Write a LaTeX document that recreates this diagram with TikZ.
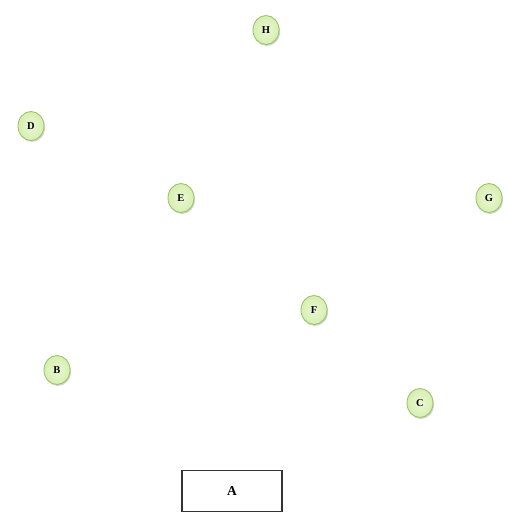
\documentclass[tikz,border=0pt]{standalone}
\usepackage{fontspec}
\setmainfont{Liberation Serif}
\usetikzlibrary{shadows,shapes.geometric}
\definecolor{nodefill}{HTML}{DDF3B8}
\definecolor{nodeedge}{HTML}{9CC46C}
\begin{document}
\begin{tikzpicture}[x=1pt,y=-1pt,
  vtx/.style={ellipse,draw=nodeedge,line width=0.9pt,inner color=nodefill!60!white,outer color=nodefill!90!nodeedge,
    minimum width=26pt,minimum height=29pt,inner sep=0pt,
    font=\fontsize{10.5}{11}\selectfont\bfseries,
    drop shadow={shadow xshift=1pt,shadow yshift=-1.5pt,fill=black!35,opacity=0.5}},
  boxnode/.style={draw=black!80,line width=1.2pt,minimum width=100pt,minimum height=41pt,inner sep=0pt,
    font=\fontsize{13.5}{14}\selectfont\bfseries}]
\useasboundingbox (0,0) rectangle (508,523);
\node[vtx] (H) at (266,30) {H};
\node[vtx] (D) at (31,126) {D};
\node[vtx] (E) at (181,198) {E};
\node[vtx] (G) at (489,198) {G};
\node[vtx] (F) at (314,310) {F};
\node[vtx] (B) at (57,370) {B};
\node[vtx] (C) at (420,403) {C};
\node[boxnode] (A) at (232,491) {A};
\end{tikzpicture}
\end{document}
